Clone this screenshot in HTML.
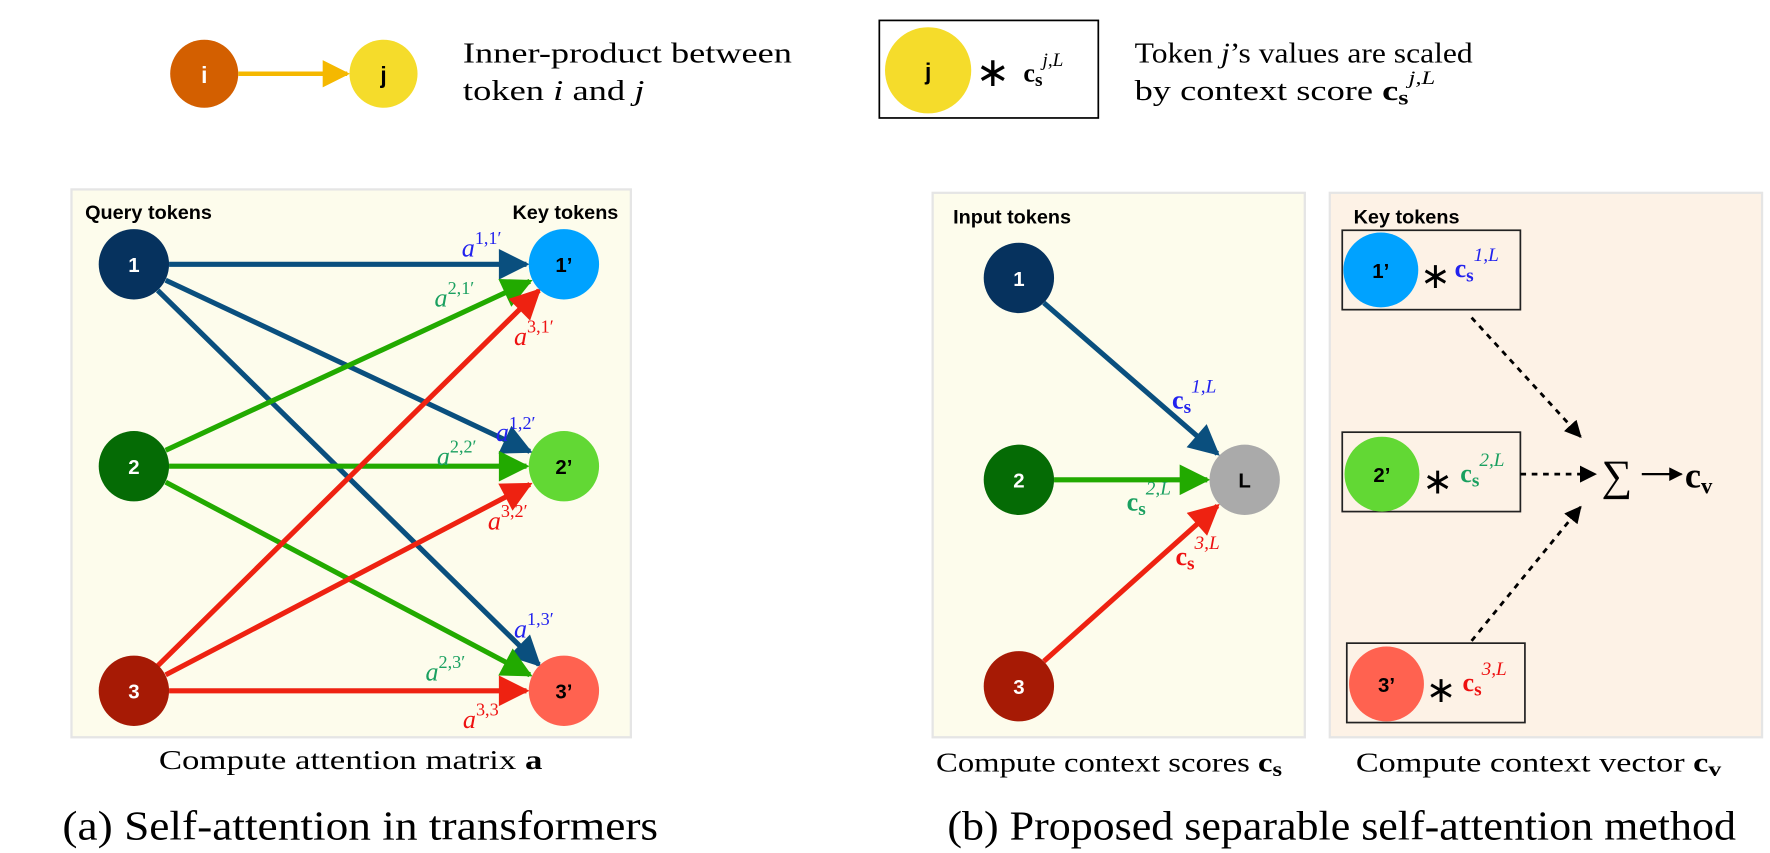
<!DOCTYPE html>
<html><head><meta charset="utf-8"><style>
html,body{margin:0;padding:0;background:#fff;}
svg{display:block}
.s{font-family:"Liberation Serif",serif;}
.h{font-family:"Liberation Sans",sans-serif;font-weight:bold;}
.m{font-family:"Liberation Serif",serif;font-style:italic;}
</style></head><body>
<svg width="1770" height="853" viewBox="0 0 1560 752" preserveAspectRatio="none" xmlns="http://www.w3.org/2000/svg">
<defs>
<marker id="ab" viewBox="0 0 10 10" refX="9" refY="5" markerWidth="6.5" markerHeight="6" orient="auto"><path d="M0,0L10,5L0,10z" fill="#0a4f7e"/></marker>
<marker id="ag" viewBox="0 0 10 10" refX="9" refY="5" markerWidth="6.5" markerHeight="6" orient="auto"><path d="M0,0L10,5L0,10z" fill="#22aa00"/></marker>
<marker id="ar" viewBox="0 0 10 10" refX="9" refY="5" markerWidth="6.5" markerHeight="6" orient="auto"><path d="M0,0L10,5L0,10z" fill="#ee2211"/></marker>
<marker id="ay" viewBox="0 0 10 10" refX="9" refY="5" markerWidth="6" markerHeight="6" orient="auto"><path d="M0,0L10,5L0,10z" fill="#f5b800"/></marker>
<marker id="ak" viewBox="0 0 10 10" refX="9" refY="5" markerWidth="6" markerHeight="6" orient="auto"><path d="M0,0L10,5L0,10z" fill="#000"/></marker>
</defs>
<!-- legend -->
<circle cx="180" cy="65" r="30" fill="#d35f00"/><text x="180" y="73" text-anchor="middle" class="h" fill="#fff" font-size="20" font-weight="normal">i</text>
<line x1="210" y1="65" x2="306" y2="65" stroke="#f5b800" stroke-width="4" marker-end="url(#ay)"/>
<circle cx="338" cy="65" r="30" fill="#f5dc2b"/><text x="338" y="73" text-anchor="middle" class="h" font-size="20">j</text>
<text x="408" y="55" class="s" font-size="25" textLength="290" lengthAdjust="spacingAndGlyphs">Inner-product between</text>
<text x="408" y="88" class="s" font-size="25" textLength="160" lengthAdjust="spacingAndGlyphs">token <tspan class="m">i</tspan> and <tspan class="m">j</tspan></text>
<rect x="775" y="18" width="193" height="86" fill="none" stroke="#000" stroke-width="1.5"/>
<circle cx="818" cy="62" r="38" fill="#f5dc2b"/><text x="818" y="70" text-anchor="middle" class="h" font-size="20" font-weight="normal">j</text>
<text x="875" y="76" text-anchor="middle" class="s" font-size="36">∗</text>
<text x="902" y="72" class="s" font-size="23" font-weight="bold">c<tspan font-size="17" dy="4">s</tspan><tspan class="m" font-size="17" dy="-18" font-weight="normal">j,L</tspan></text>
<text x="1000" y="55" class="s" font-size="25" textLength="298" lengthAdjust="spacingAndGlyphs">Token <tspan class="m">j</tspan>’s values are scaled</text>
<text x="1000" y="88" class="s" font-size="25" textLength="265" lengthAdjust="spacingAndGlyphs">by context score <tspan font-weight="bold">c<tspan font-size="18" dy="4">s</tspan></tspan><tspan class="m" font-size="17" dy="-18">j,L</tspan></text>

<!-- panel a -->
<rect x="63" y="167" width="493" height="483" fill="#fdfcec" stroke="#e5e5e5" stroke-width="2"/>
<text x="75" y="193" class="h" font-size="17.5">Query tokens</text>
<text x="545" y="193" text-anchor="end" class="h" font-size="17.5">Key tokens</text>
<g stroke-width="4.5" fill="none">
<line x1="149" y1="233" x2="464" y2="233" stroke="#0a4f7e" marker-end="url(#ab)"/>
<line x1="146" y1="247" x2="467" y2="398" stroke="#0a4f7e" marker-end="url(#ab)"/>
<line x1="139" y1="256" x2="475" y2="586" stroke="#0a4f7e" marker-end="url(#ab)"/>
<line x1="146" y1="397" x2="467" y2="248" stroke="#22aa00" marker-end="url(#ag)"/>
<line x1="149" y1="411" x2="464" y2="411" stroke="#22aa00" marker-end="url(#ag)"/>
<line x1="146" y1="425" x2="467" y2="595" stroke="#22aa00" marker-end="url(#ag)"/>
<line x1="139" y1="587" x2="475" y2="256" stroke="#ee2211" marker-end="url(#ar)"/>
<line x1="146" y1="595" x2="467" y2="427" stroke="#ee2211" marker-end="url(#ar)"/>
<line x1="149" y1="609" x2="464" y2="609" stroke="#ee2211" marker-end="url(#ar)"/>
</g>
<circle cx="118" cy="233" r="31" fill="#06325e"/><text x="118" y="240" text-anchor="middle" class="h" font-weight="normal" fill="#fff" font-size="18">1</text>
<circle cx="118" cy="411" r="31" fill="#056b05"/><text x="118" y="418" text-anchor="middle" class="h" font-weight="normal" fill="#fff" font-size="18">2</text>
<circle cx="118" cy="609" r="31" fill="#a61a05"/><text x="118" y="616" text-anchor="middle" class="h" font-weight="normal" fill="#fff" font-size="18">3</text>
<circle cx="497" cy="233" r="31" fill="#00a2ff"/><text x="497" y="240" text-anchor="middle" class="h" font-size="18">1’</text>
<circle cx="497" cy="411" r="31" fill="#62d834"/><text x="497" y="418" text-anchor="middle" class="h" font-size="18">2’</text>
<circle cx="497" cy="609" r="31" fill="#ff6250"/><text x="497" y="616" text-anchor="middle" class="h" font-size="18">3’</text>
<g class="m" font-size="23">
<text x="407" y="226" fill="#2222ee">a<tspan font-size="16" dy="-11" font-style="normal">1,1′</tspan></text>
<text x="383" y="270" fill="#1aa060">a<tspan font-size="16" dy="-11" font-style="normal">2,1′</tspan></text>
<text x="453" y="304" fill="#ee1111">a<tspan font-size="16" dy="-11" font-style="normal">3,1′</tspan></text>
<text x="437" y="389" fill="#2222ee">a<tspan font-size="16" dy="-11" font-style="normal">1,2′</tspan></text>
<text x="385" y="410" fill="#1aa060">a<tspan font-size="16" dy="-11" font-style="normal">2,2′</tspan></text>
<text x="430" y="467" fill="#ee1111">a<tspan font-size="16" dy="-11" font-style="normal">3,2′</tspan></text>
<text x="453" y="562" fill="#2222ee">a<tspan font-size="16" dy="-11" font-style="normal">1,3′</tspan></text>
<text x="375" y="600" fill="#1aa060">a<tspan font-size="16" dy="-11" font-style="normal">2,3′</tspan></text>
<text x="408" y="642" fill="#ee1111">a<tspan font-size="16" dy="-11" font-style="normal">3,3</tspan></text>
</g>
<text x="140" y="678" class="s" font-size="24" textLength="338" lengthAdjust="spacingAndGlyphs">Compute attention matrix <tspan font-weight="bold">a</tspan></text>
<text x="55" y="740" class="s" font-size="36" textLength="525" lengthAdjust="spacingAndGlyphs">(a) Self-attention in transformers</text>

<!-- panel b1 -->
<rect x="822" y="170" width="328" height="480" fill="#fdfcec" stroke="#e5e5e5" stroke-width="2"/>
<text x="840" y="197" class="h" font-size="17.5">Input tokens</text>
<g stroke-width="4.5">
<line x1="920" y1="267" x2="1073" y2="400" stroke="#0a4f7e" marker-end="url(#ab)"/>
<line x1="929" y1="423" x2="1064" y2="423" stroke="#22aa00" marker-end="url(#ag)"/>
<line x1="920" y1="583" x2="1073" y2="446" stroke="#ee2211" marker-end="url(#ar)"/>
</g>
<circle cx="898" cy="245" r="31" fill="#06325e"/><text x="898" y="252" text-anchor="middle" class="h" font-weight="normal" fill="#fff" font-size="18">1</text>
<circle cx="898" cy="423" r="31" fill="#056b05"/><text x="898" y="430" text-anchor="middle" class="h" font-weight="normal" fill="#fff" font-size="18">2</text>
<circle cx="898" cy="605" r="31" fill="#a61a05"/><text x="898" y="612" text-anchor="middle" class="h" font-weight="normal" fill="#fff" font-size="18">3</text>
<circle cx="1097" cy="423" r="31" fill="#aaaaaa"/><text x="1097" y="430" text-anchor="middle" class="h" font-weight="normal" font-size="18">L</text>
<g class="s" font-size="23" font-weight="bold">
<text x="1033" y="360" fill="#2222ee">c<tspan font-size="17" dy="4">s</tspan><tspan class="m" font-weight="normal" font-size="17" dy="-18">1,L</tspan></text>
<text x="993" y="450" fill="#1aa060">c<tspan font-size="17" dy="4">s</tspan><tspan class="m" font-weight="normal" font-size="17" dy="-18">2,L</tspan></text>
<text x="1036" y="498" fill="#ee1111">c<tspan font-size="17" dy="4">s</tspan><tspan class="m" font-weight="normal" font-size="17" dy="-18">3,L</tspan></text>
</g>
<text x="825" y="680" class="s" font-size="24" textLength="305" lengthAdjust="spacingAndGlyphs">Compute context scores <tspan font-weight="bold">c<tspan font-size="18" dy="4">s</tspan></tspan></text>

<!-- panel b2 -->
<rect x="1172" y="170" width="381" height="480" fill="#fdf2e6" stroke="#e5e5e5" stroke-width="2"/>
<text x="1193" y="197" class="h" font-size="17.5">Key tokens</text>
<rect x="1183" y="203" width="157" height="70" fill="none" stroke="#222" stroke-width="1.5"/>
<rect x="1183" y="381" width="157" height="70" fill="none" stroke="#222" stroke-width="1.5"/>
<rect x="1187" y="567" width="157" height="70" fill="none" stroke="#222" stroke-width="1.5"/>
<circle cx="1217" cy="238" r="33" fill="#00a2ff"/><text x="1217" y="245" text-anchor="middle" class="h" font-size="18">1’</text>
<circle cx="1218" cy="418" r="33" fill="#62d834"/><text x="1218" y="425" text-anchor="middle" class="h" font-size="18">2’</text>
<circle cx="1222" cy="603" r="33" fill="#ff6250"/><text x="1222" y="610" text-anchor="middle" class="h" font-size="18">3’</text>
<text x="1265" y="254" text-anchor="middle" class="s" font-size="32">∗</text>
<text x="1267" y="435" text-anchor="middle" class="s" font-size="32">∗</text>
<text x="1270" y="619" text-anchor="middle" class="s" font-size="32">∗</text>
<g class="s" font-size="23" font-weight="bold">
<text x="1282" y="244" fill="#2222ee">c<tspan font-size="17" dy="4">s</tspan><tspan class="m" font-weight="normal" font-size="17" dy="-18">1,L</tspan></text>
<text x="1287" y="425" fill="#1aa060">c<tspan font-size="17" dy="4">s</tspan><tspan class="m" font-weight="normal" font-size="17" dy="-18">2,L</tspan></text>
<text x="1289" y="609" fill="#ee1111">c<tspan font-size="17" dy="4">s</tspan><tspan class="m" font-weight="normal" font-size="17" dy="-18">3,L</tspan></text>
</g>
<g stroke="#000" stroke-width="2.5" stroke-dasharray="5,5" fill="none">
<line x1="1297" y1="280" x2="1393" y2="385" marker-end="url(#ak)"/>
<line x1="1340" y1="418" x2="1406" y2="418" marker-end="url(#ak)"/>
<line x1="1297" y1="565" x2="1393" y2="447" marker-end="url(#ak)"/>
</g>
<text x="1425" y="432" text-anchor="middle" class="s" font-size="38">∑</text>
<line x1="1447" y1="418" x2="1482" y2="418" stroke="#000" stroke-width="2" marker-end="url(#ak)"/>
<text x="1485" y="430" class="s" font-size="32" font-weight="bold">c<tspan font-size="20" dy="5">v</tspan></text>
<text x="1195" y="680" class="s" font-size="24" textLength="322" lengthAdjust="spacingAndGlyphs">Compute context vector <tspan font-weight="bold">c<tspan font-size="18" dy="4">v</tspan></tspan></text>
<text x="835" y="740" class="s" font-size="36" textLength="695" lengthAdjust="spacingAndGlyphs">(b) Proposed separable self-attention method</text>
</svg>
</body></html>
